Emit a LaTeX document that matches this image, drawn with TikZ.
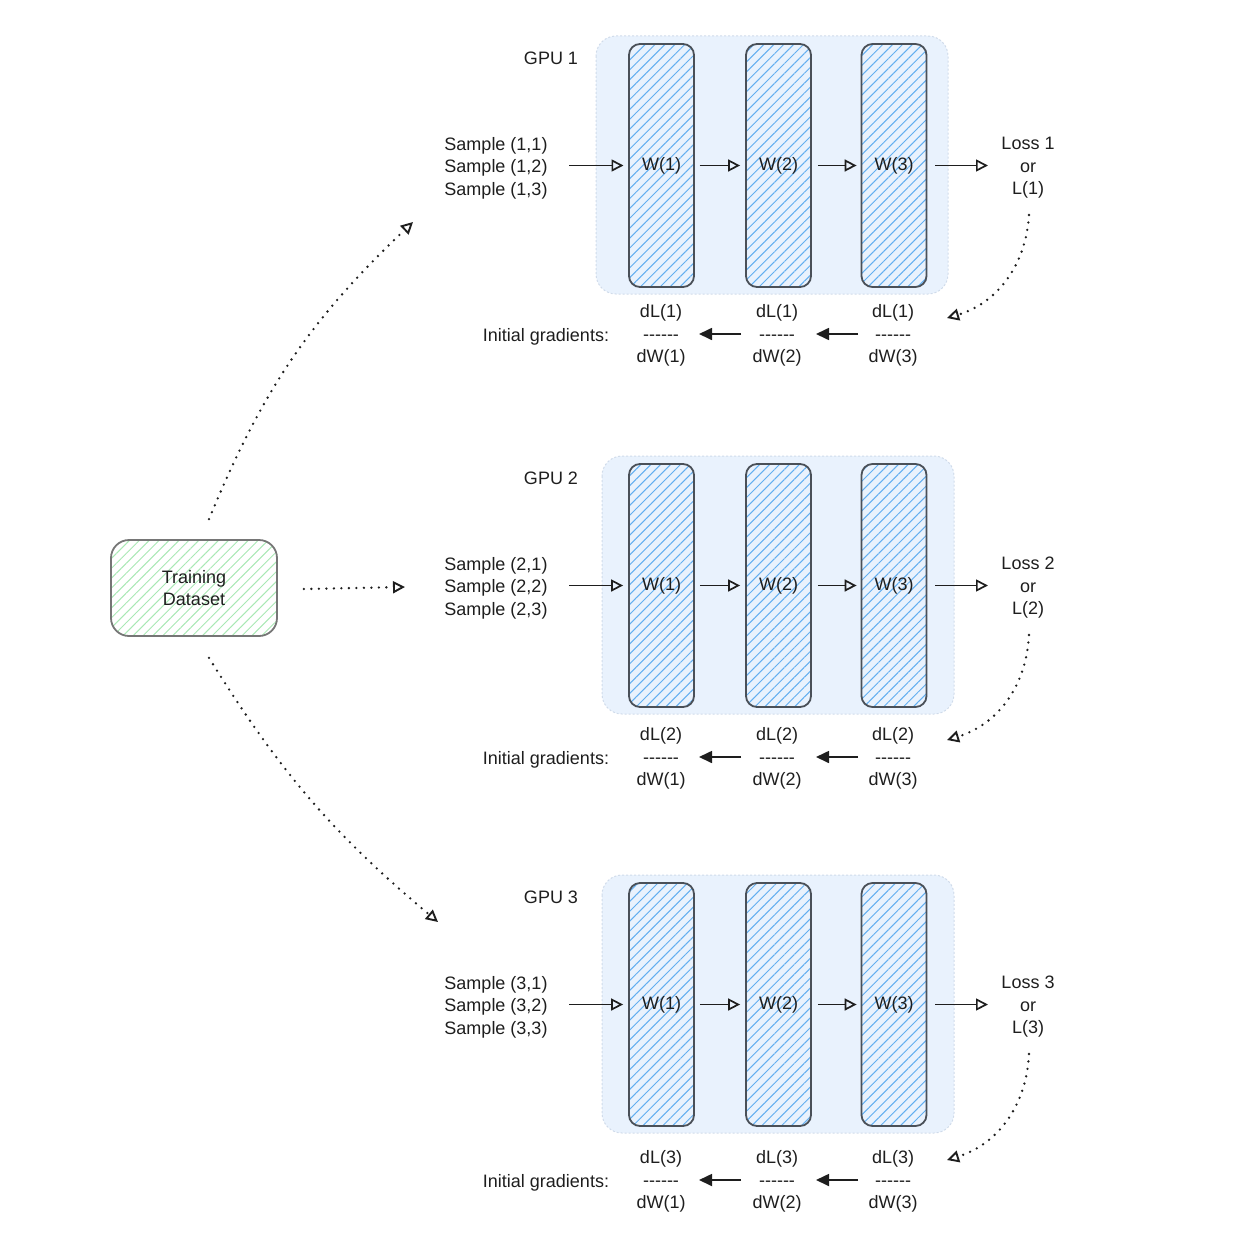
\documentclass[tikz,border=0pt]{standalone}
\usepackage{fontspec}
\setmainfont{Liberation Sans}[Ligatures=TeXOff]
\usetikzlibrary{arrows.meta,patterns.meta}
\definecolor{ink}{HTML}{1E1E1E}
\definecolor{gpubg}{HTML}{E9F2FD}
\definecolor{gpuedge}{HTML}{D0DBEA}
\definecolor{wedge}{HTML}{4A5058}
\definecolor{hatchblue}{HTML}{62AEF0}
\definecolor{hatchgreen}{HTML}{A9E8B4}
\definecolor{dsedge}{HTML}{767676}
\begin{document}
\begin{tikzpicture}[x=1pt,y=-1pt,
  txt/.style={inner sep=0pt, text=ink, font=\fontsize{18}{22.5}\selectfont, align=center},
  gpubox/.style={fill=gpubg, draw=gpuedge, dash pattern=on 2pt off 2pt, line width=1pt, rounded corners=20pt},
  wbox/.style={draw=wedge, line width=1.8pt, rounded corners=11pt, minimum width=65pt, minimum height=243pt,
    pattern={Lines[angle=45,distance=7pt,line width=1pt]}, pattern color=hatchblue,
    inner sep=0pt, text=ink, font=\fontsize{18}{22.5}\selectfont},
  dsbox/.style={draw=dsedge, line width=1.8pt, rounded corners=18pt, minimum width=166pt, minimum height=96pt,
    pattern={Lines[angle=45,distance=7pt,line width=1pt]}, pattern color=hatchgreen,
    inner sep=0pt, text=ink, align=center, font=\fontsize{18}{22.5}\selectfont},
  fwd/.style={draw=ink, line width=1.7pt, -{Triangle[open,length=12pt,width=12pt,line width=1.7pt]}},
  back/.style={draw=ink, line width=1.7pt, -{Triangle[length=13pt,width=12pt]}},
  dotarr/.style={draw=ink, line width=2.6pt, line cap=round, dash pattern=on 0pt off 7.5pt,
    -{Triangle[open,length=12pt,width=12pt,line width=1.9pt]}},
]
\useasboundingbox (0,0) rectangle (1252,1244);

\foreach \g/\oy/\gy/\bx/\ey in {1/0/0/596/318, 2/420/423/602/740, 3/839/846/602/1160} {
  \path[gpubox] (\bx,36+\oy) rectangle (\bx+352,294+\oy);
  \node[txt] (glab\g) at (551,58+\oy) {GPU \g};
  \node[wbox] (w\g1) at (661.5,165.5+\oy) {\raisebox{-2pt}{W(1)}};
  \node[wbox] (w\g2) at (778.5,165.5+\oy) {\raisebox{-2pt}{W(2)}};
  \node[wbox] (w\g3) at (894,165.5+\oy) {\raisebox{-2pt}{W(3)}};
  \node[txt] (s\g) at (496,168+\oy) {Sample (\g,1)\\Sample (\g,2)\\Sample (\g,3)};
  \node[txt] (L\g) at (1028,168+\oy) {Loss \g\\or\\L(\g)};
  \draw[fwd, shorten <=73pt, shorten >=5pt] (s\g.center |- w\g1.west) -- (w\g1.west);
  \draw[fwd, shorten <=5pt, shorten >=5pt] (w\g1.east) -- (w\g2.west);
  \draw[fwd, shorten <=6pt, shorten >=4pt] (w\g2.east) -- (w\g3.west);
  \draw[fwd, shorten <=8pt, shorten >=40pt] (w\g3.east) -- (L\g.center |- w\g3.east);
  \node[txt] (ig\g) at (546,337+\gy) {Initial gradients:};
  \node[txt] (g\g1) at (661,335.5+\gy) {dL(\g)\\------\\dW(1)};
  \node[txt] (g\g2) at (777,335.5+\gy) {dL(\g)\\------\\dW(2)};
  \node[txt] (g\g3) at (893,335.5+\gy) {dL(\g)\\------\\dW(3)};
  \draw[back, shorten <=36pt, shorten >=38pt] ([yshift=1.5pt]g\g2.center) -- ([yshift=1.5pt]g\g1.center);
  \draw[back, shorten <=35pt, shorten >=39pt] ([yshift=1.5pt]g\g3.center) -- ([yshift=1.5pt]g\g2.center);
  \coordinate (le\g) at (947,\ey);
  \draw[dotarr] ([shift={(1,47)}]L\g.center) to[bend left=35] (le\g);
}

\node[dsbox] (D) at (194,588) {Training\\Dataset};
\coordinate (t1) at (413,222);
\coordinate (t2) at (405,587);
\coordinate (t3) at (438,922);
\draw[dotarr] ([shift={(15,-20)}]D.north) to[bend left=12] (t1);
\draw[dotarr] ([shift={(26,1)}]D.east) -- (t2);
\draw[dotarr] ([shift={(15,21)}]D.south) to[bend right=9] (t3);
\end{tikzpicture}
\end{document}
